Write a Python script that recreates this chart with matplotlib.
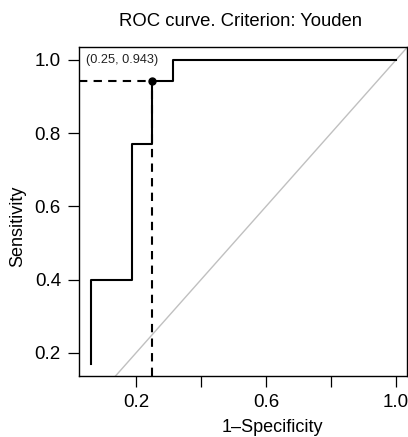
import matplotlib
matplotlib.use('Agg')
import matplotlib.pyplot as plt

plt.rcParams['font.family'] = ['Liberation Sans', 'DejaVu Sans']

# ROC curve vertices (1-specificity, sensitivity)
fpr = [0.0625, 0.0625, 0.1875, 0.1875, 0.25, 0.25, 0.3125, 0.3125, 1.0]
tpr = [0.171, 0.4, 0.4, 0.771, 0.771, 0.943, 0.943, 1.0, 1.0]
cut_x = 0.25
cut_y = 0.943
cut_label = '(0.25, 0.943)'
xticks = [0.2, 0.4, 0.6, 0.8, 1.0]
xticklabels = ['0.2', '', '0.6', '', '1.0']
yticks = [0.2, 0.4, 0.6, 0.8, 1.0]

fig = plt.figure(figsize=(4.08, 4.37), dpi=100)
ax = fig.add_axes([0.1936, 0.1396, 0.804, 0.7529])

xlo, xhi = 0.0246, 1.034
ylo, yhi = 0.137, 1.0355

ax.plot([0, 1.1], [0, 1.1], color='#c0c0c0', lw=1.0, zorder=1)
ax.plot(fpr, tpr, color='black', lw=1.5, zorder=3)
ax.plot([xlo, cut_x], [cut_y, cut_y], color='black', lw=1.5, ls=(0, (4, 3)), zorder=2)
ax.plot([cut_x, cut_x], [ylo, cut_y], color='black', lw=1.5, ls=(0, (4, 3)), zorder=2)
ax.plot([cut_x], [cut_y], 'o', color='black', ms=5, zorder=4)
ax.text(0.157, 1.0, cut_label, fontsize=9.2, ha='center', va='center', color='#222222')

ax.set_xlim(xlo, xhi)
ax.set_ylim(ylo, yhi)
ax.set_xticks(xticks)
ax.set_xticklabels(xticklabels)
ax.set_yticks(yticks)
ax.set_yticklabels(['%.1f' % v for v in yticks])
ax.tick_params(direction='out', length=8, width=0.9, labelsize=13.5, pad=5)
for s in ax.spines.values():
    s.set_linewidth(1.0)

fig.text(0.59, 0.95, 'ROC curve. Criterion: Youden', fontsize=13.3, ha='center', va='center')
fig.text(0.667, 0.003, '1–Specificity', fontsize=13, ha='center', va='bottom')
fig.text(0.044, 0.483, 'Sensitivity', fontsize=13, ha='center', va='center', rotation=90)

fig.savefig('out.png', dpi=100)
